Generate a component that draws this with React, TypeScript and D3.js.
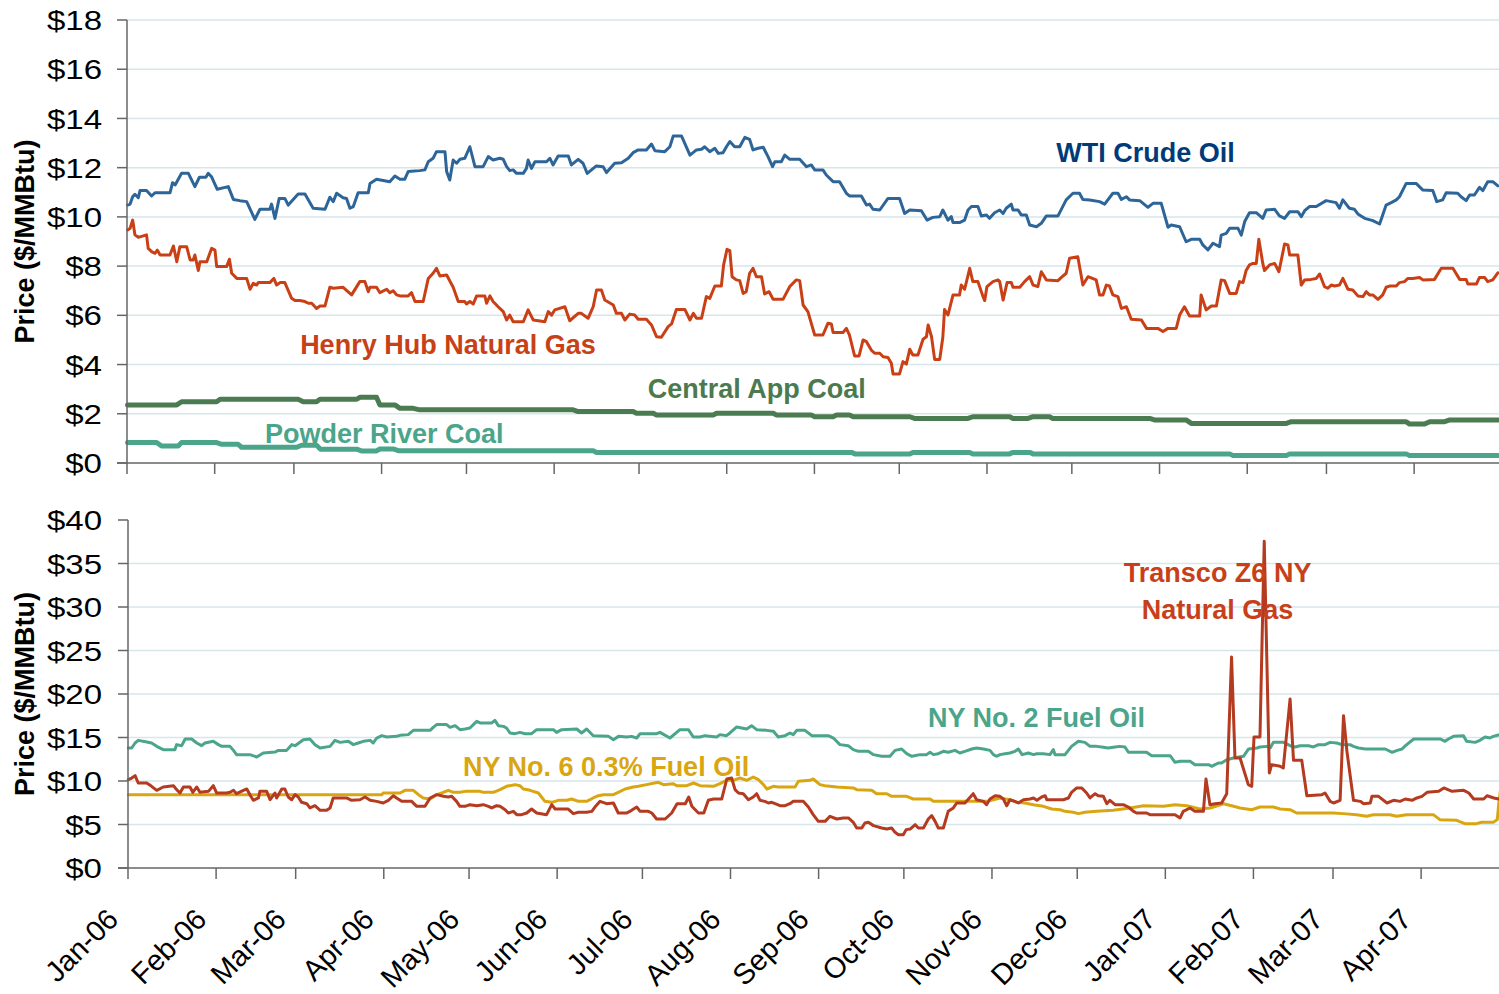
import React from "react";
import * as d3 from "d3";

// [days since 2006-01-01, price $/MMBtu]
type Pt = [number, number];

const START = new Date(2006, 0, 1);
const END = new Date(2007, 4, 1);

const topTicks = [0, 2, 4, 6, 8, 10, 12, 14, 16, 18];
const bottomTicks = [0, 5, 10, 15, 20, 25, 30, 35, 40];
const axisTitle = "Price ($/MMBtu)";

const wtiCrude: Pt[] = [
  [0.2, 10.48], [1.1, 10.52], [2.0, 10.82], [2.8, 10.92], [4.0, 10.78], [4.6, 11.07], [6.9, 11.07], [8.7, 10.85],
  [9.9, 10.98], [15.2, 10.98], [16.1, 11.39], [17.0, 11.3], [19.3, 11.77], [21.7, 11.77], [24.0, 11.23], [25.6, 11.61],
  [27.9, 11.61], [28.7, 11.77], [29.9, 11.63], [31.9, 11.12], [35.8, 11.23], [37.6, 10.71], [39.9, 10.66], [42.3, 10.62],
  [45.2, 9.9], [47.0, 10.31], [50.5, 10.31], [51.1, 10.52], [52.3, 9.94], [53.8, 10.75], [55.8, 10.75], [57.0, 10.48],
  [60.5, 10.93], [62.9, 10.93], [65.8, 10.35], [70.0, 10.31], [71.7, 10.8], [72.9, 10.62], [74.1, 10.96], [76.4, 10.78],
  [77.6, 10.75], [78.8, 10.35], [80.0, 10.42], [81.7, 10.98], [85.3, 10.98], [85.9, 11.36], [88.2, 11.53], [92.9, 11.43],
  [94.7, 11.66], [96.5, 11.53], [98.2, 11.53], [99.4, 11.84], [103.5, 11.88], [105.3, 11.91], [106.5, 12.24], [108.2, 12.38],
  [109.4, 12.65], [112.4, 12.65], [113.0, 11.84], [114.1, 11.5], [115.3, 12.31], [116.5, 12.18], [117.7, 12.34], [119.4, 12.38],
  [121.2, 12.85], [123.0, 12.04], [125.9, 12.04], [127.7, 12.45], [129.4, 12.31], [131.8, 12.38], [133.0, 12.34], [134.2, 12.04],
  [135.3, 11.88], [136.5, 11.91], [137.7, 11.77], [140.1, 11.77], [141.2, 11.97], [141.8, 12.31], [143.0, 11.97], [144.2, 12.24],
  [148.3, 12.24], [149.5, 12.38], [150.6, 12.11], [152.4, 12.47], [156.0, 12.47], [157.1, 12.11], [159.5, 12.34], [161.2, 12.18],
  [162.7, 11.77], [165.9, 12.07], [168.3, 12.04], [169.5, 11.8], [172.4, 12.18], [174.8, 12.2], [177.2, 12.38], [178.9, 12.61],
  [180.7, 12.72], [183.6, 12.72], [185.4, 12.96], [186.6, 12.69], [190.1, 12.65], [191.9, 12.85], [193.1, 13.29], [196.0, 13.29],
  [199.0, 12.51], [201.3, 12.72], [203.1, 12.75], [204.2, 12.85], [206.0, 12.65], [207.8, 12.79], [209.0, 12.58], [210.7, 12.61],
  [211.9, 12.85], [213.1, 13.06], [214.8, 12.85], [216.6, 12.85], [218.4, 13.23], [220.1, 13.15], [221.3, 12.72], [223.1, 12.79],
  [224.9, 12.83], [226.6, 12.45], [228.2, 12.04], [229.0, 12.24], [231.3, 12.24], [232.5, 12.51], [234.3, 12.34], [237.8, 12.34],
  [240.2, 12.04], [241.9, 12.11], [243.1, 11.91], [246.0, 11.91], [247.2, 11.7], [249.6, 11.43], [251.9, 11.43], [254.3, 10.96],
  [255.4, 10.85], [259.6, 10.85], [261.4, 10.48], [262.5, 10.52], [263.7, 10.31], [266.1, 10.28], [269.0, 10.75], [273.1, 10.75],
  [274.9, 10.14], [276.7, 10.28], [280.8, 10.25], [282.8, 9.87], [284.9, 9.98], [287.3, 10.01], [288.4, 10.28], [290.2, 9.87],
  [291.4, 10.01], [292.0, 9.77], [294.3, 9.77], [296.1, 9.87], [297.3, 10.28], [298.5, 10.42], [300.8, 10.42], [302.0, 10.04],
  [303.8, 10.08], [304.9, 9.94], [306.7, 10.17], [308.5, 10.28], [309.7, 10.14], [310.8, 10.35], [312.6, 10.52], [313.2, 10.28],
  [315.0, 10.28], [316.1, 10.08], [317.9, 10.08], [319.1, 9.67], [321.5, 9.6], [323.2, 9.74], [325.0, 10.04], [329.1, 10.04],
  [332.0, 10.69], [334.4, 10.96], [336.7, 10.96], [337.9, 10.71], [340.3, 10.69], [343.8, 10.62], [345.6, 10.52], [348.5, 10.96],
  [350.3, 10.96], [351.5, 10.71], [353.3, 10.82], [354.4, 10.69], [358.0, 10.66], [360.9, 10.39], [362.7, 10.55], [365.6, 10.55],
  [368.0, 9.58], [369.1, 9.67], [372.1, 9.6], [374.4, 8.99], [376.2, 9.09], [379.2, 9.09], [380.3, 8.86], [382.1, 8.66],
  [383.9, 8.93], [386.2, 8.79], [386.8, 9.26], [388.6, 9.33], [389.8, 9.54], [392.7, 9.54], [393.9, 9.26], [395.1, 9.81],
  [396.8, 10.17], [399.2, 10.17], [401.5, 9.94], [402.7, 10.28], [405.7, 10.31], [407.4, 10.04], [409.2, 9.94], [411.0, 10.21],
  [413.9, 10.21], [415.1, 10.01], [416.3, 10.25], [418.0, 10.42], [420.4, 10.42], [423.9, 10.66], [427.4, 10.58], [428.6, 10.35],
  [429.8, 10.69], [432.1, 10.35], [433.9, 10.31], [435.1, 10.12], [437.5, 9.94], [440.4, 9.85], [442.8, 9.71], [445.1, 10.48],
  [446.9, 10.58], [448.7, 10.69], [449.8, 10.82], [452.2, 11.36], [455.7, 11.36], [458.1, 11.09], [461.6, 11.07], [463.0, 10.62],
  [465.1, 10.69], [466.3, 10.98], [470.4, 10.96], [471.6, 10.82], [473.4, 10.66], [474.6, 10.89], [476.3, 10.89], [478.1, 11.2],
  [479.3, 11.07], [481.0, 11.43], [482.8, 11.43], [484.6, 11.26],
];

const henryHub: Pt[] = [
  [0.2, 9.47], [1.1, 9.54], [2.0, 9.87], [2.8, 9.27], [4.0, 9.17], [6.9, 9.27], [7.5, 8.72], [8.7, 8.59],
  [9.9, 8.52], [10.7, 8.65], [11.7, 8.45], [15.2, 8.45], [16.4, 8.82], [17.6, 8.18], [18.7, 8.79], [21.1, 8.79],
  [22.3, 8.25], [23.4, 8.25], [24.0, 8.45], [25.2, 7.82], [25.8, 8.18], [28.2, 8.18], [29.9, 8.72], [31.1, 8.65],
  [31.7, 7.98], [35.2, 7.98], [36.2, 8.28], [37.0, 7.71], [38.8, 7.5], [42.3, 7.5], [43.5, 7.06], [44.6, 7.3],
  [45.8, 7.23], [46.4, 7.33], [50.5, 7.33], [51.9, 7.5], [52.9, 7.23], [54.1, 7.33], [55.8, 7.33], [58.2, 6.69],
  [59.4, 6.6], [61.1, 6.6], [62.9, 6.56], [64.1, 6.49], [65.3, 6.49], [67.0, 6.28], [68.2, 6.38], [70.0, 6.38],
  [71.7, 7.14], [72.9, 7.1], [76.4, 7.14], [79.4, 6.83], [82.3, 7.37], [84.1, 7.37], [85.3, 6.96], [85.9, 7.14],
  [88.2, 7.14], [89.4, 6.92], [91.8, 7.06], [92.9, 6.92], [94.1, 7.0], [95.3, 6.83], [96.5, 6.79], [99.4, 6.79],
  [100.6, 6.92], [101.8, 6.56], [104.7, 6.56], [106.5, 7.5], [108.2, 7.71], [109.4, 7.91], [110.6, 7.6], [113.0, 7.64],
  [115.3, 7.14], [117.1, 6.56], [119.4, 6.56], [120.0, 6.46], [121.2, 6.56], [122.4, 6.46], [123.6, 6.79], [126.5, 6.79],
  [127.1, 6.49], [128.3, 6.79], [129.4, 6.56], [131.2, 6.35], [131.8, 6.28], [133.0, 6.15], [134.2, 5.81], [135.3, 6.01],
  [136.5, 5.74], [140.1, 5.74], [141.8, 6.22], [143.6, 5.81], [147.7, 5.74], [148.9, 6.15], [150.1, 6.01], [151.2, 6.22],
  [154.8, 6.35], [156.5, 5.78], [159.5, 6.08], [160.6, 6.08], [163.0, 5.88], [164.8, 6.35], [166.0, 7.03], [167.7, 7.03],
  [168.9, 6.62], [171.9, 6.42], [173.0, 6.08], [174.8, 6.08], [176.0, 5.81], [177.7, 6.05], [179.5, 6.01], [180.7, 5.84],
  [183.6, 5.84], [185.4, 5.61], [187.2, 5.13], [188.9, 5.11], [191.3, 5.54], [192.5, 5.65], [194.2, 6.24], [197.2, 6.24],
  [199.0, 5.81], [200.2, 6.08], [201.3, 5.88], [203.1, 5.88], [204.8, 6.76], [206.0, 6.69], [207.8, 7.19], [210.1, 7.19],
  [210.9, 8.05], [212.1, 8.68], [213.1, 8.63], [213.9, 7.57], [215.4, 7.44], [216.6, 7.41], [217.8, 6.89], [218.9, 6.96],
  [220.1, 7.71], [221.3, 7.91], [222.5, 7.57], [224.3, 7.57], [225.4, 6.87], [227.0, 6.96], [228.4, 6.65], [231.9, 6.65],
  [234.3, 7.17], [236.6, 7.44], [237.8, 7.41], [239.0, 6.42], [240.7, 6.15], [243.1, 5.2], [246.0, 5.2], [247.8, 5.68],
  [249.0, 5.65], [249.6, 5.3], [253.1, 5.3], [254.3, 5.47], [255.4, 5.2], [257.2, 4.35], [258.8, 4.35], [260.2, 5.0],
  [261.4, 4.93], [263.1, 4.59], [264.3, 4.46], [266.1, 4.46], [267.3, 4.32], [269.0, 4.29], [270.2, 4.05], [270.8, 3.62],
  [273.1, 3.62], [274.3, 4.12], [275.5, 4.02], [276.7, 4.62], [277.8, 4.39], [279.6, 4.39], [281.4, 5.03], [282.6, 5.13],
  [283.2, 5.61], [284.4, 5.13], [285.5, 4.21], [287.3, 4.21], [288.4, 5.11], [289.0, 6.24], [290.2, 6.01], [292.0, 6.83],
  [294.3, 6.83], [294.9, 7.23], [296.1, 7.06], [297.9, 7.91], [299.0, 7.37], [300.8, 7.37], [302.6, 6.76], [303.2, 6.6],
  [304.0, 7.17], [306.1, 7.37], [307.9, 7.44], [308.5, 7.37], [309.7, 6.62], [311.1, 7.33], [312.6, 7.33], [313.2, 7.14],
  [315.6, 7.14], [317.3, 7.37], [319.1, 7.57], [320.3, 7.23], [322.0, 7.17], [323.2, 7.77], [325.0, 7.44], [329.1, 7.41],
  [330.3, 7.54], [332.0, 7.71], [333.2, 8.32], [336.1, 8.38], [337.9, 7.23], [339.7, 7.57], [342.6, 7.44], [343.8, 6.83],
  [345.0, 6.83], [346.2, 7.23], [347.3, 7.19], [348.5, 6.83], [350.3, 6.76], [351.5, 6.28], [353.3, 6.35], [355.0, 5.84],
  [358.6, 5.81], [360.4, 5.47], [364.4, 5.47], [366.2, 5.34], [368.0, 5.47], [370.9, 5.47], [372.1, 6.01], [373.8, 6.35],
  [375.6, 5.97], [379.2, 5.97], [379.7, 6.83], [381.5, 6.22], [383.3, 6.38], [385.1, 6.38], [386.8, 7.44], [388.0, 7.41],
  [389.8, 6.89], [392.1, 6.89], [393.3, 7.37], [394.5, 7.33], [395.6, 7.82], [396.8, 8.05], [398.0, 8.11], [399.2, 8.11],
  [400.1, 9.09], [401.5, 8.11], [402.1, 7.82], [403.9, 8.05], [405.7, 8.11], [407.2, 7.77], [409.2, 8.9], [410.4, 8.86],
  [411.0, 8.45], [413.9, 8.45], [415.1, 7.23], [416.3, 7.44], [418.6, 7.46], [420.4, 7.5], [421.6, 7.68], [423.3, 7.17],
  [424.5, 7.1], [425.7, 7.23], [426.9, 7.19], [428.6, 7.23], [429.8, 7.5], [431.6, 7.06], [433.3, 7.03], [435.1, 6.79],
  [436.9, 6.76], [438.1, 6.96], [439.2, 6.83], [440.4, 6.83], [442.2, 6.65], [443.9, 6.83], [445.1, 7.14], [446.3, 7.19],
  [448.7, 7.19], [449.8, 7.33], [451.6, 7.37], [452.8, 7.5], [454.5, 7.5], [456.9, 7.54], [458.1, 7.44], [462.2, 7.46],
  [464.6, 7.91], [468.7, 7.91], [471.1, 7.46], [473.4, 7.46], [474.0, 7.27], [477.0, 7.27], [478.1, 7.54], [479.9, 7.54],
  [481.0, 7.37], [482.8, 7.44], [484.6, 7.73],
];

const centralAppCoal: Pt[] = [
  [0.2, 2.36], [17.6, 2.36], [19.3, 2.49], [31.7, 2.49], [32.9, 2.59], [60.5, 2.59], [62.3, 2.49], [67.0, 2.49],
  [68.2, 2.59], [81.2, 2.59], [82.3, 2.67], [88.2, 2.67], [89.4, 2.36], [94.7, 2.36], [96.5, 2.22], [101.2, 2.22],
  [103.5, 2.16], [157.7, 2.16], [159.5, 2.09], [178.9, 2.09], [180.1, 2.02], [186.0, 2.02], [187.2, 1.95], [207.2, 1.95],
  [208.4, 2.02], [228.4, 2.02], [229.6, 1.95], [241.9, 1.95], [243.1, 1.88], [249.6, 1.88], [250.8, 1.95], [255.4, 1.95],
  [256.7, 1.88], [276.7, 1.88], [278.4, 1.81], [297.3, 1.81], [299.0, 1.88], [312.0, 1.88], [313.2, 1.81], [318.5, 1.81],
  [320.3, 1.88], [326.1, 1.88], [327.3, 1.81], [361.5, 1.81], [363.2, 1.75], [374.4, 1.75], [376.2, 1.61], [409.8, 1.61],
  [411.6, 1.68], [452.2, 1.68], [453.4, 1.58], [458.7, 1.58], [460.5, 1.68], [465.8, 1.68], [467.6, 1.75], [484.6, 1.75],
];

const powderRiverCoal: Pt[] = [
  [0.2, 0.83], [10.5, 0.83], [12.2, 0.69], [18.1, 0.69], [19.3, 0.83], [31.7, 0.83], [33.5, 0.76], [39.3, 0.76],
  [40.5, 0.64], [60.0, 0.64], [61.7, 0.72], [67.0, 0.72], [68.4, 0.56], [81.2, 0.56], [82.9, 0.49], [88.2, 0.49],
  [89.4, 0.57], [94.1, 0.57], [95.9, 0.5], [164.8, 0.5], [166.0, 0.43], [256.1, 0.43], [257.3, 0.37], [276.7, 0.37],
  [277.8, 0.43], [297.9, 0.43], [299.0, 0.37], [312.0, 0.37], [313.2, 0.43], [319.1, 0.43], [320.3, 0.37], [389.8, 0.37],
  [391.0, 0.3], [409.8, 0.3], [411.0, 0.37], [452.2, 0.37], [453.4, 0.3], [484.6, 0.3],
];

const nyNo2FuelOil: Pt[] = [
  [0.1, 13.79], [1.3, 13.79], [2.5, 14.37], [3.6, 14.67], [6.6, 14.48], [8.3, 14.37], [10.1, 13.98], [12.4, 13.6],
  [16.5, 13.6], [17.1, 14.18], [18.9, 14.06], [20.1, 14.83], [22.4, 14.83], [24.2, 14.37], [25.9, 14.06], [27.1, 14.37],
  [30.0, 14.56], [31.8, 14.18], [33.0, 13.98], [35.9, 13.98], [37.1, 13.52], [38.2, 13.03], [42.9, 13.03], [45.3, 12.76],
  [47.6, 13.22], [51.7, 13.33], [52.9, 13.52], [55.8, 13.52], [57.6, 14.18], [58.8, 14.06], [61.7, 14.75], [64.0, 14.83],
  [65.8, 14.18], [67.6, 13.79], [71.1, 13.98], [72.8, 14.67], [74.6, 14.44], [77.5, 14.56], [79.3, 14.18], [81.0, 14.37],
  [82.8, 14.56], [85.2, 14.67], [86.3, 14.37], [87.5, 14.94], [89.3, 15.21], [91.0, 15.06], [94.5, 15.13], [95.7, 15.25],
  [98.6, 15.33], [100.4, 15.82], [106.3, 15.82], [107.4, 16.17], [108.6, 16.48], [112.1, 16.48], [113.3, 16.17], [115.1, 16.36],
  [116.8, 15.9], [118.6, 15.98], [120.3, 16.09], [122.7, 16.86], [123.9, 16.67], [128.0, 16.67], [129.1, 16.97], [130.3, 16.36],
  [132.1, 16.28], [133.2, 16.09], [134.4, 15.52], [136.2, 15.44], [137.9, 15.59], [139.7, 15.44], [142.0, 15.44], [143.8, 15.9],
  [149.7, 15.9], [150.8, 15.59], [152.6, 15.9], [157.9, 15.98], [159.6, 15.52], [161.4, 15.98], [163.7, 15.21], [169.1, 15.13],
  [170.8, 14.75], [172.6, 15.13], [175.5, 15.06], [177.2, 15.13], [179.0, 14.94], [180.2, 15.44], [186.0, 15.44], [187.2, 15.59],
  [190.7, 14.94], [194.2, 15.9], [197.2, 15.9], [198.9, 15.06], [201.3, 15.06], [203.0, 15.21], [207.1, 15.06], [208.3, 15.33],
  [210.6, 15.21], [211.8, 15.52], [214.2, 16.21], [217.7, 15.98], [219.4, 16.36], [221.2, 15.9], [224.7, 15.82], [227.1, 15.71],
  [228.8, 15.06], [231.2, 15.21], [232.9, 15.52], [234.1, 15.33], [235.3, 15.82], [238.2, 15.82], [240.6, 15.21], [246.4, 15.21],
  [248.2, 14.94], [250.5, 14.18], [253.4, 14.06], [255.2, 13.6], [257.0, 13.41], [260.5, 13.41], [262.3, 13.03], [265.2, 12.84],
  [268.1, 12.84], [269.9, 13.52], [272.2, 13.68], [274.0, 13.14], [275.8, 12.84], [278.7, 13.03], [281.0, 13.03], [282.2, 13.3],
  [283.4, 13.03], [285.1, 13.14], [286.9, 13.41], [288.6, 13.3], [291.0, 13.52], [292.7, 13.22], [294.5, 13.41], [296.9, 13.68],
  [298.6, 13.79], [301.0, 13.68], [303.3, 13.52], [304.5, 13.03], [305.7, 12.84], [306.8, 13.03], [308.6, 13.14], [310.3, 13.22],
  [312.1, 13.41], [313.3, 13.68], [314.6, 13.03], [316.8, 13.22], [318.6, 13.03], [319.8, 13.14], [322.1, 13.14], [324.4, 13.03],
  [325.6, 13.6], [326.2, 13.03], [329.7, 13.03], [332.0, 13.98], [334.4, 14.56], [336.7, 14.44], [338.5, 13.98], [340.8, 13.98],
  [342.6, 13.91], [344.9, 13.79], [347.3, 13.91], [349.0, 13.98], [350.8, 13.91], [352.0, 13.3], [358.4, 13.3], [360.2, 12.91],
  [366.7, 12.91], [368.4, 12.15], [370.2, 12.26], [373.7, 12.26], [375.4, 11.88], [380.2, 11.88], [381.3, 11.69], [382.5, 11.88],
  [383.7, 12.07], [384.8, 12.07], [386.6, 12.45], [389.0, 12.64], [392.5, 12.84], [394.3, 13.68], [397.2, 13.79], [398.3, 13.91],
  [400.7, 13.98], [401.9, 13.79], [403.0, 14.44], [406.6, 14.44], [408.9, 14.06], [410.7, 13.91], [412.4, 14.06], [415.4, 14.06],
  [417.1, 13.91], [418.9, 14.18], [421.2, 14.18], [423.0, 14.44], [425.3, 14.37], [427.1, 14.18], [430.0, 14.18], [431.2, 13.98],
  [433.0, 13.79], [435.4, 13.68], [442.4, 13.68], [444.8, 13.3], [446.6, 13.52], [448.3, 13.68], [449.5, 14.06], [452.4, 14.83],
  [461.8, 14.83], [463.4, 14.56], [464.6, 14.83], [466.4, 15.13], [469.9, 15.21], [471.0, 14.56], [474.0, 14.44], [475.7, 14.67],
  [477.5, 15.06], [479.2, 14.94], [480.4, 15.13], [482.2, 15.29], [484.6, 15.3],
];

const nyNo6FuelOil: Pt[] = [
  [0.1, 8.43], [89.3, 8.43], [89.8, 8.62], [95.7, 8.62], [97.5, 8.93], [100.4, 8.93], [102.2, 8.43], [103.9, 8.05],
  [106.3, 7.93], [108.6, 8.43], [110.4, 8.62], [112.7, 8.93], [114.5, 8.7], [116.8, 8.7], [118.6, 8.81], [123.9, 8.81],
  [125.0, 8.7], [128.6, 8.7], [130.9, 9.0], [133.2, 9.39], [136.2, 9.58], [137.9, 9.46], [139.1, 9.08], [141.5, 8.93],
  [144.4, 8.62], [146.7, 7.66], [149.1, 7.55], [151.4, 7.78], [154.4, 7.78], [156.1, 7.93], [158.5, 7.66], [161.4, 7.66],
  [163.7, 8.05], [165.5, 8.31], [167.3, 8.43], [170.8, 8.43], [172.5, 8.7], [174.9, 9.08], [177.8, 9.31], [179.6, 9.39],
  [182.5, 9.58], [186.6, 9.85], [188.4, 9.58], [191.9, 9.69], [193.1, 9.46], [196.6, 9.46], [199.0, 9.77], [201.3, 9.46],
  [206.0, 9.39], [208.3, 9.69], [210.6, 10.08], [213.0, 10.08], [215.3, 10.34], [217.7, 10.08], [220.0, 10.46], [221.8, 10.15],
  [223.6, 9.58], [224.8, 9.08], [227.1, 9.39], [228.8, 9.31], [234.7, 9.31], [235.9, 9.96], [240.0, 10.08], [241.1, 10.23],
  [243.5, 9.58], [245.2, 9.46], [249.4, 9.31], [255.2, 9.2], [256.4, 9.0], [261.7, 8.93], [263.4, 8.54], [267.0, 8.54],
  [268.7, 8.24], [274.0, 8.24], [276.3, 7.93], [282.2, 7.93], [283.4, 7.66], [302.1, 7.66], [304.5, 7.85], [306.8, 8.05],
  [310.3, 7.85], [312.7, 7.55], [315.6, 7.47], [318.6, 7.28], [322.1, 7.09], [325.0, 6.78], [328.0, 6.7], [329.7, 6.51],
  [332.6, 6.4], [334.4, 6.25], [336.7, 6.4], [340.8, 6.51], [346.7, 6.63], [352.6, 6.9], [357.3, 7.16], [364.4, 7.09],
  [368.4, 7.28], [372.5, 7.16], [377.2, 6.78], [380.8, 6.9], [385.5, 7.39], [389.0, 7.09], [391.3, 6.9], [395.4, 6.7],
  [398.3, 7.01], [403.0, 7.01], [405.4, 6.78], [408.9, 6.7], [411.2, 6.32], [424.1, 6.32], [427.6, 6.25], [432.3, 6.13],
  [435.8, 5.94], [438.2, 6.13], [444.0, 6.13], [446.4, 5.94], [449.9, 6.13], [459.3, 6.13], [461.6, 5.56], [467.5, 5.48],
  [470.4, 5.1], [474.5, 5.1], [476.3, 5.25], [480.4, 5.25], [481.8, 5.56], [482.4, 7.66], [483.2, 9.6],
];

const transcoZ6NY: Pt[] = [
  [0.1, 10.15], [1.3, 10.34], [2.5, 10.61], [3.6, 9.77], [6.6, 9.77], [8.3, 9.39], [10.1, 8.93], [12.4, 9.31],
  [16.0, 9.46], [17.1, 9.0], [18.3, 8.62], [19.5, 9.31], [21.8, 9.31], [22.8, 8.7], [24.2, 9.31], [25.3, 8.7],
  [28.3, 8.81], [30.0, 9.46], [31.2, 8.62], [34.7, 8.62], [35.9, 8.7], [37.1, 8.93], [38.2, 8.54], [40.6, 8.93],
  [41.8, 9.08], [43.2, 8.24], [44.1, 7.78], [45.9, 8.05], [46.4, 8.81], [48.8, 8.81], [50.0, 7.85], [51.7, 8.62],
  [52.3, 8.05], [54.1, 9.08], [55.2, 9.08], [56.4, 8.16], [57.6, 7.85], [58.8, 8.43], [59.9, 8.16], [61.1, 7.55],
  [62.9, 7.39], [64.0, 6.9], [65.8, 7.16], [67.6, 6.63], [69.9, 6.63], [71.1, 6.9], [72.2, 8.05], [76.9, 8.05],
  [78.7, 7.78], [81.6, 7.85], [83.4, 8.16], [85.2, 7.78], [87.5, 7.66], [89.8, 7.47], [91.6, 7.78], [93.4, 8.31],
  [94.5, 8.05], [96.3, 7.66], [99.8, 7.66], [101.6, 7.09], [104.5, 7.09], [106.3, 8.05], [108.6, 8.43], [111.0, 8.24],
  [112.7, 8.16], [113.9, 8.24], [115.6, 7.66], [116.8, 7.09], [118.6, 7.09], [120.3, 7.28], [122.7, 7.16], [125.0, 7.28],
  [126.8, 7.09], [128.0, 6.9], [129.7, 7.16], [130.9, 7.09], [132.7, 6.7], [133.8, 6.32], [135.6, 6.51], [136.8, 6.13],
  [138.5, 6.13], [140.3, 6.32], [142.0, 6.78], [143.8, 6.32], [147.3, 6.13], [149.1, 7.28], [150.3, 6.78], [154.9, 6.78],
  [156.7, 6.25], [158.5, 6.4], [161.4, 6.4], [163.2, 6.51], [164.3, 7.01], [166.1, 7.66], [168.4, 7.39], [170.8, 7.47],
  [172.5, 6.32], [175.5, 6.32], [177.2, 6.63], [179.0, 7.01], [180.2, 6.51], [183.1, 6.51], [184.3, 6.32], [186.0, 5.63],
  [189.0, 5.63], [191.3, 6.32], [193.2, 7.39], [196.1, 7.39], [197.3, 8.16], [198.4, 7.09], [200.7, 6.32], [202.6, 6.32],
  [204.2, 7.78], [206.0, 7.93], [208.9, 7.93], [210.7, 10.23], [212.4, 10.34], [213.6, 9.0], [214.8, 8.62], [216.5, 8.54],
  [218.3, 7.85], [220.0, 8.16], [221.2, 8.54], [222.4, 7.78], [224.1, 7.66], [225.3, 7.47], [226.5, 7.55], [227.7, 7.39],
  [229.4, 7.16], [231.2, 7.16], [232.9, 7.39], [234.1, 7.66], [237.6, 7.66], [239.4, 7.01], [241.1, 6.13], [242.9, 5.36],
  [245.3, 5.36], [247.0, 5.94], [249.4, 5.63], [251.7, 5.75], [253.5, 5.75], [255.2, 5.25], [256.4, 4.6], [258.2, 4.6],
  [259.3, 5.17], [260.5, 5.25], [262.3, 4.87], [265.2, 4.6], [267.0, 4.48], [268.7, 4.6], [269.9, 4.1], [271.1, 3.83],
  [272.8, 3.83], [273.8, 4.41], [275.2, 4.48], [277.0, 4.98], [278.1, 4.6], [279.9, 4.6], [281.6, 5.63], [282.8, 6.02],
  [284.0, 5.36], [285.1, 4.6], [286.9, 4.6], [288.6, 6.51], [290.4, 6.9], [291.6, 7.47], [294.5, 7.47], [297.4, 8.54],
  [298.6, 7.85], [301.0, 7.66], [302.1, 7.28], [303.3, 7.93], [305.1, 8.31], [306.8, 8.24], [308.0, 7.93], [309.2, 7.16],
  [310.3, 7.85], [312.1, 7.66], [313.3, 7.47], [315.1, 7.85], [317.4, 7.93], [318.6, 8.05], [319.8, 7.78], [321.5, 8.16],
  [322.7, 8.31], [323.3, 7.85], [329.1, 7.85], [330.9, 8.05], [332.0, 8.7], [333.8, 9.2], [335.6, 9.2], [337.3, 8.62],
  [338.5, 8.05], [340.3, 8.54], [341.4, 8.31], [343.2, 8.24], [344.4, 7.39], [345.5, 7.78], [347.3, 7.28], [350.2, 7.28],
  [352.0, 7.01], [353.8, 6.51], [354.9, 6.32], [358.4, 6.32], [359.6, 6.13], [368.4, 6.13], [370.2, 5.75], [371.3, 6.51],
  [373.7, 6.9], [375.4, 6.51], [378.4, 6.51], [379.3, 10.23], [380.7, 7.28], [382.5, 7.39], [384.8, 7.47], [386.6, 8.54],
  [388.3, 24.25], [389.5, 12.64], [391.3, 12.64], [394.2, 9.58], [395.4, 9.39], [396.2, 15.06], [398.3, 15.06], [399.8, 37.55],
  [401.6, 10.92], [402.4, 11.88], [405.4, 11.69], [406.5, 11.49], [408.9, 19.43], [410.1, 12.38], [413.0, 12.38], [414.8, 8.31],
  [420.1, 8.43], [421.2, 8.62], [423.0, 7.66], [424.2, 7.47], [426.5, 7.78], [427.7, 17.51], [428.9, 13.41], [431.2, 7.78],
  [433.6, 7.66], [434.8, 7.39], [437.1, 7.47], [437.7, 8.24], [440.0, 8.24], [443.0, 7.47], [445.3, 7.78], [447.6, 7.66],
  [449.4, 7.93], [451.8, 7.78], [453.5, 8.05], [455.3, 8.24], [457.1, 8.7], [461.2, 8.81], [463.0, 9.2], [465.9, 8.81],
  [470.0, 8.93], [471.8, 8.62], [473.5, 7.93], [477.0, 7.93], [478.2, 8.31], [480.6, 8.05], [482.3, 7.93], [484.6, 7.9],
];

const FONT = "'Liberation Sans', Arial, Helvetica, sans-serif";

interface SeriesDef {
  data: Pt[];
  color: string;
  width: number;
}
interface LabelDef {
  lines: string[];
  x: number; // days since start, for anchor
  y: number; // value, for baseline
  color: string;
  anchor: "start" | "middle";
}

const toDate = (d: number) => new Date(START.getTime() + d * 864e5);

function Panel(props: {
  xRange: [number, number];
  yRange: [number, number];
  yMax: number;
  ticks: number[];
  series: SeriesDef[];
  labels: LabelDef[];
  showXLabels: boolean;
  gridTop: boolean;
}) {
  const { xRange, yRange, yMax, ticks, series, labels, showXLabels, gridTop } = props;
  const x = d3.scaleTime().domain([START, END]).range(xRange);
  const y = d3.scaleLinear().domain([0, yMax]).range(yRange);
  const months = d3.timeMonth.range(START, END);
  const fmt = d3.timeFormat("%b-%y");
  const line = d3
    .line<Pt>()
    .x((p) => x(toDate(p[0])))
    .y((p) => y(p[1]));
  const x0 = xRange[0];
  const y0 = yRange[0];
  const right = 1499;
  return (
    <g>
      {ticks
        .filter((t) => t > 0 && (gridTop || t < yMax))
        .map((t) => (
          <line key={"g" + t} x1={x0} x2={right} y1={y(t)} y2={y(t)} stroke="#D6E6EA" strokeWidth={1.5} />
        ))}
      {series.map((s, i) => (
        <path
          key={"s" + i}
          d={line(s.data) || ""}
          fill="none"
          stroke={s.color}
          strokeWidth={s.width}
          strokeLinejoin="round"
          strokeLinecap="round"
        />
      ))}
      <line x1={x0} x2={x0} y1={y(yMax)} y2={y0} stroke="#666" strokeWidth={1.5} />
      <line x1={x0 - 10} x2={right} y1={y0} y2={y0} stroke="#666" strokeWidth={1.5} />
      {ticks.map((t) => (
        <g key={"t" + t}>
          <line x1={x0 - 10} x2={x0} y1={y(t)} y2={y(t)} stroke="#666" strokeWidth={1.5} />
          <text
            transform={`translate(102,${y(t)}) scale(1.18,1)`}
            dy="0.36em"
            textAnchor="end"
            fontFamily={FONT}
            fontSize={28}
            fill="#000"
          >
            {"$" + t}
          </text>
        </g>
      ))}
      {months.map((m) => (
        <g key={"m" + m.getTime()}>
          <line x1={x(m)} x2={x(m)} y1={y0} y2={y0 + 11} stroke="#666" strokeWidth={1.5} />
          {showXLabels && (
            <text
              transform={`translate(${x(m) - 8},${y0 + 53}) rotate(-45)`}
              textAnchor="end"
              fontFamily={FONT}
              fontSize={29}
              fill="#000"
            >
              {fmt(m)}
            </text>
          )}
        </g>
      ))}
      <text
        transform={`translate(34,${(yRange[0] + yRange[1]) / 2}) rotate(-90)`}
        textAnchor="middle"
        fontFamily={FONT}
        fontWeight="bold"
        fontSize={27}
        fill="#000"
      >
        {axisTitle}
      </text>
      {labels.map((l, i) => (
        <text
          key={"l" + i}
          textAnchor={l.anchor}
          fontFamily={FONT}
          fontWeight="bold"
          fontSize={27}
          fill={l.color}
        >
          {l.lines.map((s, j) => (
            <tspan key={j} x={x(toDate(l.x))} y={y(l.y) + j * 37}>
              {s}
            </tspan>
          ))}
        </text>
      ))}
    </g>
  );
}

export default function App() {
  return (
    <svg
      width={1499}
      height={994}
      style={{ position: "absolute", left: 0, top: 0, background: "#fff" }}
    >
      <rect width={1499} height={994} fill="#fff" />
      <Panel
        xRange={[127, 1499]}
        yRange={[463, 20]}
        yMax={18}
        ticks={topTicks}
        gridTop={true}
        showXLabels={false}
        series={[
          { data: powderRiverCoal, color: "#4BA58A", width: 5 },
          { data: centralAppCoal, color: "#4B7B50", width: 5 },
          { data: henryHub, color: "#CA4016", width: 3 },
          { data: wtiCrude, color: "#2D6598", width: 3 },
        ]}
        labels={[
          { lines: ["WTI Crude Oil"], x: 328.5, y: 12.23, color: "#003B78", anchor: "start" },
          { lines: ["Henry Hub Natural Gas"], x: 61.2, y: 4.41, color: "#C84116", anchor: "start" },
          { lines: ["Central App Coal"], x: 184.1, y: 2.64, color: "#4B7A4F", anchor: "start" },
          { lines: ["Powder River Coal"], x: 48.8, y: 0.81, color: "#4AA58A", anchor: "start" },
        ]}
      />
      <Panel
        xRange={[128, 128 + 485 * 2.842]}
        yRange={[868, 520]}
        yMax={40}
        ticks={bottomTicks}
        gridTop={false}
        showXLabels={true}
        series={[
          { data: nyNo2FuelOil, color: "#4BA58A", width: 3 },
          { data: nyNo6FuelOil, color: "#D9A611", width: 3 },
          { data: transcoZ6NY, color: "#B43A20", width: 3 },
        ]}
        labels={[
          { lines: ["Transco Z6 NY", "Natural Gas"], x: 383.4, y: 32.85, color: "#C8401A", anchor: "middle" },
          { lines: ["NY No. 2 Fuel Oil"], x: 281.5, y: 16.15, color: "#4AA58A", anchor: "start" },
          { lines: ["NY No. 6 0.3% Fuel Oil"], x: 117.9, y: 10.52, color: "#D9A611", anchor: "start" },
        ]}
      />
    </svg>
  );
}
